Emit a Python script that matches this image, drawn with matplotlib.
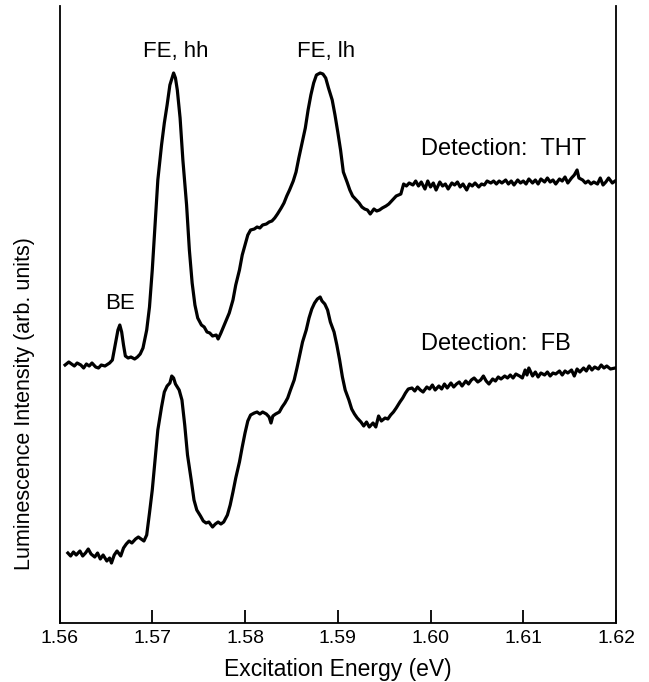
"""
Luminescence excitation spectra, THT and FB detection
"""
import matplotlib
matplotlib.use("Agg")
import matplotlib.pyplot as plt

plt.rcParams['font.family'] = ['Liberation Sans', 'DejaVu Sans']

# Excitation energy (eV) and intensity (arb. units)
# upper curve - Detection: THT
x_tht = [1.5606, 1.5610, 1.5613, 1.5616, 1.5619, 1.5623, 1.5626, 1.5629, 1.5632, 1.5635,
         1.5639, 1.5642, 1.5645, 1.5649, 1.5654, 1.5657, 1.5660, 1.5663, 1.5665, 1.5667,
         1.5669, 1.5671, 1.5674, 1.5677, 1.5681, 1.5684, 1.5687, 1.5690, 1.5694, 1.5697,
         1.5700, 1.5703, 1.5706, 1.5710, 1.5713, 1.5716, 1.5719, 1.5723, 1.5725, 1.5727,
         1.5730, 1.5733, 1.5737, 1.5740, 1.5743, 1.5746, 1.5749, 1.5753, 1.5756, 1.5759,
         1.5762, 1.5765, 1.5769, 1.5771, 1.5774, 1.5778, 1.5783, 1.5787, 1.5790, 1.5794,
         1.5797, 1.5800, 1.5803, 1.5806, 1.5810, 1.5813, 1.5816, 1.5819, 1.5823, 1.5826,
         1.5829, 1.5832, 1.5835, 1.5839, 1.5842, 1.5845, 1.5848, 1.5852, 1.5855, 1.5858,
         1.5861, 1.5865, 1.5868, 1.5871, 1.5874, 1.5877, 1.5881, 1.5884, 1.5887, 1.5890,
         1.5894, 1.5897, 1.5900, 1.5903, 1.5906, 1.5910, 1.5913, 1.5916, 1.5919, 1.5923,
         1.5926, 1.5929, 1.5932, 1.5935, 1.5939, 1.5942, 1.5945, 1.5948, 1.5952, 1.5955,
         1.5959, 1.5963, 1.5968, 1.5971, 1.5974, 1.5977, 1.5981, 1.5984, 1.5987, 1.5990,
         1.5994, 1.5997, 1.6000, 1.6003, 1.6006, 1.6010, 1.6013, 1.6016, 1.6019, 1.6023,
         1.6026, 1.6029, 1.6032, 1.6035, 1.6039, 1.6042, 1.6045, 1.6048, 1.6052, 1.6055,
         1.6058, 1.6061, 1.6065, 1.6068, 1.6071, 1.6074, 1.6077, 1.6081, 1.6084, 1.6087,
         1.6090, 1.6094, 1.6097, 1.6100, 1.6103, 1.6106, 1.6110, 1.6113, 1.6116, 1.6119,
         1.6123, 1.6126, 1.6129, 1.6132, 1.6135, 1.6139, 1.6142, 1.6145, 1.6148, 1.6152,
         1.6155, 1.6158, 1.6160, 1.6164, 1.6167, 1.6170, 1.6173, 1.6176, 1.6180, 1.6183,
         1.6186, 1.6189, 1.6192, 1.6196, 1.6199]
y_tht = [232, 235, 233, 231, 234, 232, 229, 233, 231, 234,
         230, 229, 232, 231, 234, 237, 252, 267, 272, 265,
         252, 241, 239, 240, 238, 240, 243, 249, 267, 290,
         327, 372, 417, 452, 474, 492, 512, 524, 519, 507,
         479, 437, 392, 347, 314, 292, 279, 272, 270, 265,
         264, 261, 262, 258, 264, 273, 284, 297, 312, 327,
         342, 352, 362, 367, 368, 370, 369, 372, 373, 375,
         376, 379, 383, 389, 394, 401, 407, 416, 425, 439,
         452, 469, 487, 502, 514, 522, 524, 523, 519, 509,
         497, 482, 465, 447, 425, 415, 407, 401, 398, 394,
         390, 388, 387, 383, 388, 386, 387, 389, 391, 393,
         397, 401, 403, 413, 411, 414, 412, 416, 411, 415,
         408, 416, 410, 414, 407, 415, 411, 413, 408, 414,
         412, 415, 410, 413, 407, 413, 411, 414, 410, 413,
         412, 416, 414, 416, 413, 416, 414, 417, 413, 416,
         412, 417, 414, 416, 413, 418, 414, 417, 413, 418,
         415, 419, 415, 417, 413, 418, 416, 420, 414, 419,
         422, 427, 419, 417, 414, 416, 413, 415, 413, 419,
         412, 415, 419, 414, 416]

# lower curve - Detection: FB
x_fb = [1.5609, 1.5612, 1.5615, 1.5618, 1.5622, 1.5625, 1.5628, 1.5631, 1.5634, 1.5638,
        1.5641, 1.5644, 1.5647, 1.5651, 1.5654, 1.5656, 1.5659, 1.5662, 1.5666, 1.5669,
        1.5672, 1.5675, 1.5678, 1.5682, 1.5685, 1.5688, 1.5691, 1.5694, 1.5697, 1.5700,
        1.5703, 1.5706, 1.5710, 1.5713, 1.5716, 1.5719, 1.5721, 1.5723, 1.5725, 1.5729,
        1.5732, 1.5735, 1.5738, 1.5742, 1.5745, 1.5748, 1.5752, 1.5755, 1.5758, 1.5761,
        1.5765, 1.5768, 1.5771, 1.5774, 1.5777, 1.5781, 1.5784, 1.5787, 1.5790, 1.5794,
        1.5797, 1.5800, 1.5803, 1.5806, 1.5810, 1.5813, 1.5816, 1.5819, 1.5823, 1.5826,
        1.5828, 1.5830, 1.5833, 1.5837, 1.5840, 1.5843, 1.5846, 1.5849, 1.5853, 1.5856,
        1.5859, 1.5862, 1.5866, 1.5869, 1.5872, 1.5875, 1.5878, 1.5881, 1.5883, 1.5886,
        1.5889, 1.5892, 1.5896, 1.5899, 1.5902, 1.5905, 1.5908, 1.5912, 1.5915, 1.5918,
        1.5921, 1.5925, 1.5928, 1.5931, 1.5934, 1.5938, 1.5941, 1.5944, 1.5947, 1.5951,
        1.5954, 1.5957, 1.5960, 1.5963, 1.5967, 1.5970, 1.5973, 1.5976, 1.5980, 1.5983,
        1.5986, 1.5989, 1.5992, 1.5996, 1.5999, 1.6002, 1.6005, 1.6009, 1.6012, 1.6015,
        1.6018, 1.6022, 1.6025, 1.6028, 1.6031, 1.6034, 1.6038, 1.6041, 1.6044, 1.6047,
        1.6051, 1.6054, 1.6057, 1.6060, 1.6063, 1.6067, 1.6070, 1.6073, 1.6076, 1.6080,
        1.6083, 1.6086, 1.6089, 1.6092, 1.6096, 1.6099, 1.6102, 1.6104, 1.6106, 1.6110,
        1.6113, 1.6116, 1.6119, 1.6123, 1.6126, 1.6129, 1.6132, 1.6135, 1.6139, 1.6142,
        1.6145, 1.6148, 1.6152, 1.6155, 1.6158, 1.6161, 1.6165, 1.6168, 1.6171, 1.6174,
        1.6177, 1.6181, 1.6184, 1.6187, 1.6190, 1.6194, 1.6199]
y_fb = [44, 41, 45, 42, 46, 41, 44, 48, 43, 40,
        44, 38, 42, 36, 39, 34, 42, 46, 41, 49,
        53, 56, 54, 58, 60, 58, 56, 62, 84, 107,
        137, 167, 190, 205, 211, 214, 221, 219, 213, 207,
        197, 172, 142, 117, 97, 87, 81, 76, 74, 75,
        70, 73, 75, 73, 75, 82, 92, 105, 119, 135,
        150, 164, 176, 182, 184, 185, 183, 185, 183, 180,
        174, 181, 183, 185, 190, 194, 199, 207, 217, 229,
        242, 255, 267, 279, 288, 294, 298, 300, 296, 293,
        287, 275, 265, 252, 237, 220, 207, 197, 188, 183,
        179, 175, 171, 175, 170, 174, 170, 181, 176, 179,
        178, 182, 185, 189, 195, 199, 204, 208, 209, 206,
        210, 207, 205, 210, 208, 212, 207, 211, 208, 213,
        209, 214, 210, 213, 215, 211, 216, 213, 217, 219,
        215, 217, 221, 216, 213, 218, 216, 220, 218, 221,
        219, 222, 219, 223, 221, 219, 227, 222, 229, 221,
        225, 220, 224, 222, 225, 221, 224, 223, 226, 222,
        226, 224, 227, 221, 228, 225, 229, 226, 231, 227,
        230, 228, 232, 229, 231, 228, 229]

x_ticks = [1.56, 1.57, 1.58, 1.59, 1.60, 1.61, 1.62]
x_tick_labels = ["1.56", "1.57", "1.58", "1.59", "1.60", "1.61", "1.62"]

fig = plt.figure(figsize=(6.49, 6.82), dpi=100)
ax = fig.add_axes([0.0917, 0.0865, 0.8575, 0.9047])

ax.plot(x_tht, y_tht, color='k', linewidth=2.3, solid_joinstyle='round')
ax.plot(x_fb, y_fb, color='k', linewidth=2.3, solid_joinstyle='round')

ax.set_xlim(1.56, 1.62)
ax.set_ylim(-26, 591)

# 刻度
ax.set_xticks(x_ticks)
ax.set_xticklabels(x_tick_labels, fontsize=14)
ax.tick_params(axis='x', direction='in', length=9.5, width=1.3, pad=5, top=False)
ax.set_yticks([])
ax.spines['top'].set_visible(False)
for s in ['left', 'right', 'bottom']:
    ax.spines[s].set_linewidth(1.3)

# 坐标轴标题
ax.set_xlabel("Excitation Energy (eV)", fontsize=16.5, va='center')
ax.xaxis.set_label_coords(0.5, -0.075)
ax.set_ylabel("Luminescence Intensity (arb. units)", fontsize=15.5, va='center')
ax.yaxis.set_label_coords(-0.063, 0.355)

# 峰标注
txt = dict(fontsize=16, ha='center', va='center')
ax.text(1.5725, 546, "FE, hh", **txt)
ax.text(1.5887, 546, "FE, lh", **txt)
ax.text(1.5665, 294, "BE", **txt)
ax.text(1.5990, 448, "Detection:  THT", fontsize=17, ha='left', va='center')
ax.text(1.5990, 253, "Detection:  FB", fontsize=17, ha='left', va='center')

plt.savefig("out.png", dpi=100)
